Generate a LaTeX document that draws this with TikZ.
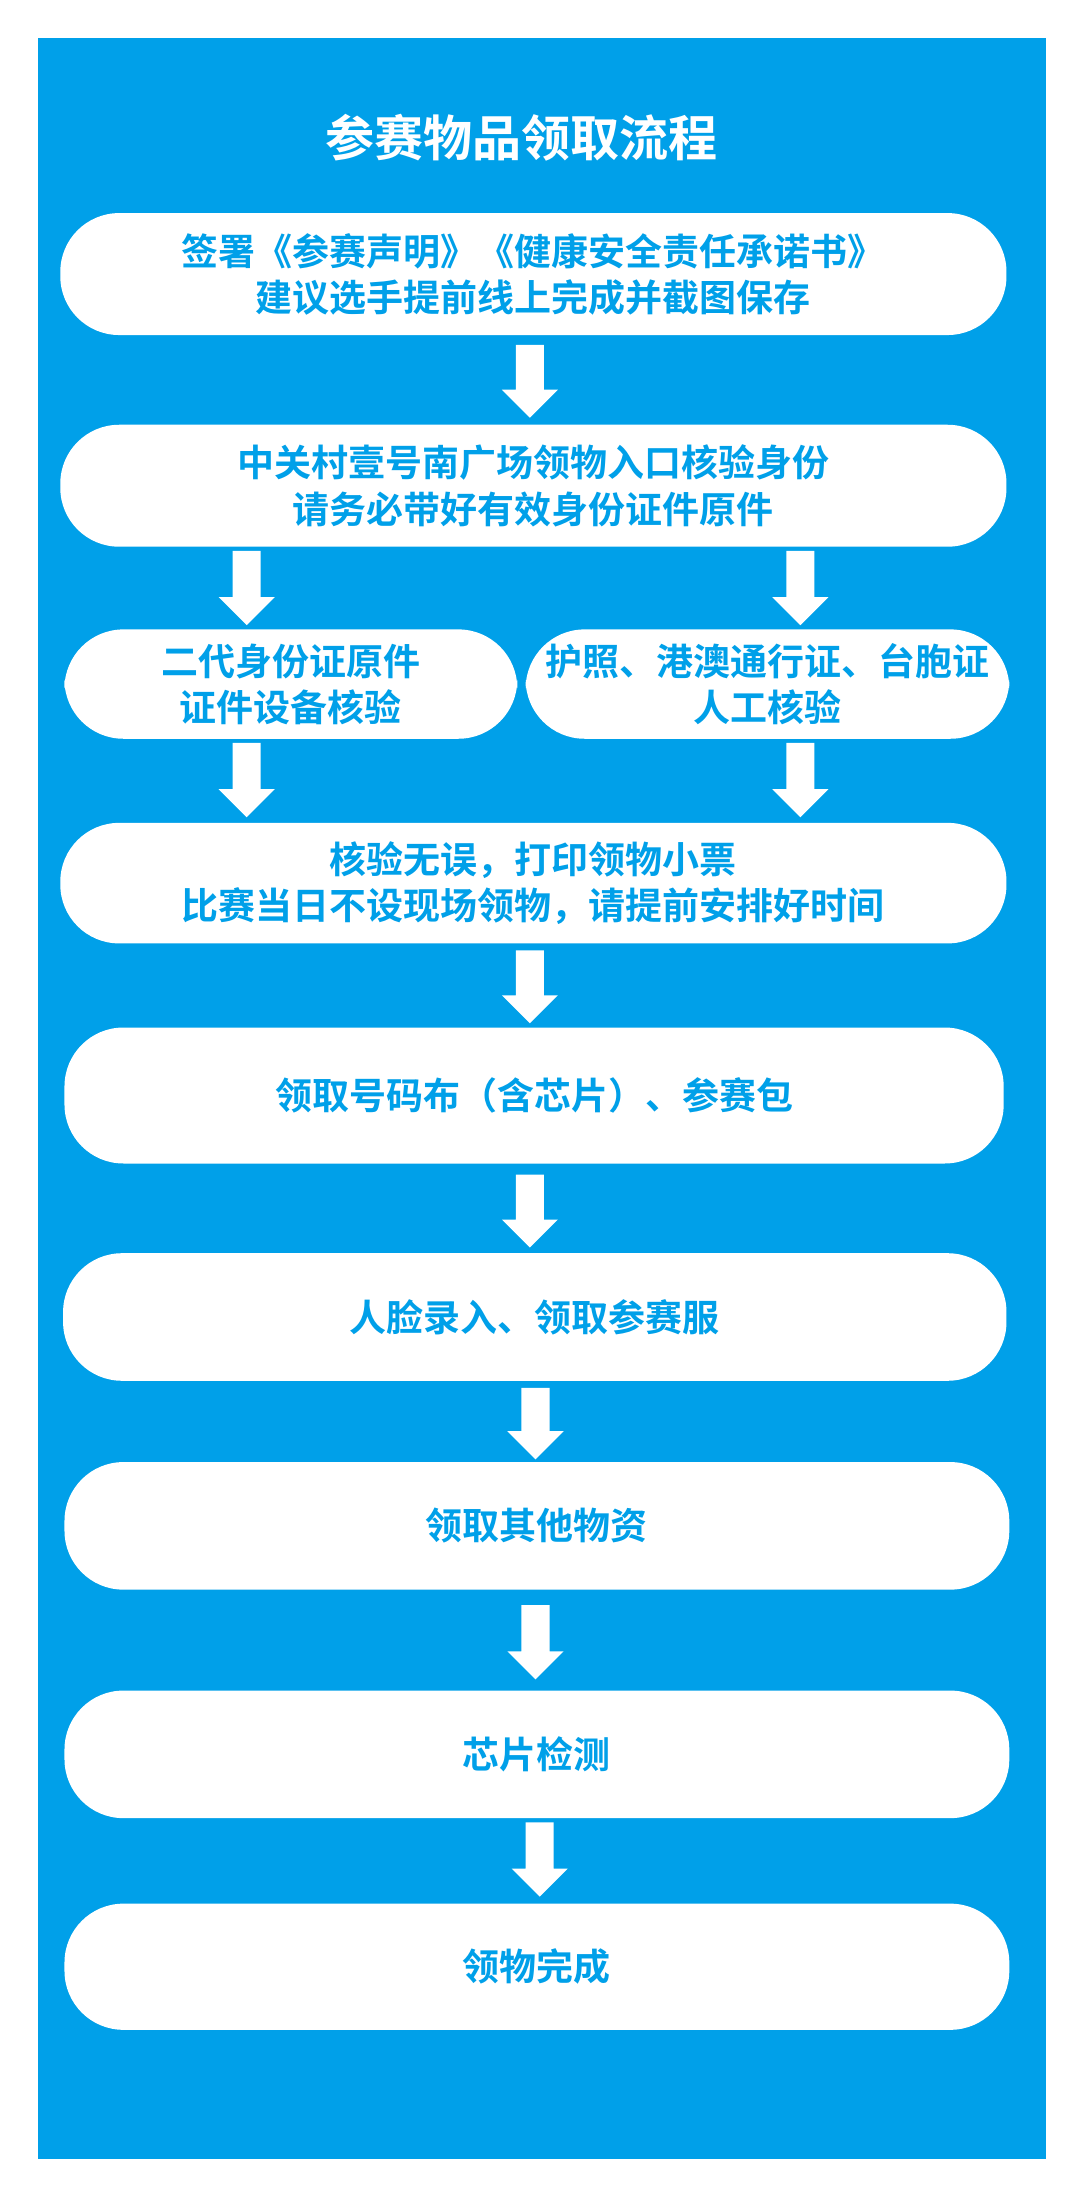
\documentclass[tikz,border=0pt]{standalone}
\usepackage{fontspec}
\newfontfamily\cjk{Noto Sans CJK SC}[BoldFont={Noto Sans CJK SC Bold}]
\definecolor{bgblue}{RGB}{0,160,233}
\tikzset{
  stepbox/.style={fill=white, rounded corners=21pt, inner sep=0pt, align=center,
    text=bgblue, font=\cjk\bfseries\fontsize{13.2}{16.5}\selectfont},
  blockarrow/.style={fill=white, draw=none}
}
% block arrow: x, top y, bottom y
\newcommand{\downarr}[3]{%
  \fill[blockarrow] (#1-10,#2) -- (#1+10,#2) -- (#1+10,#3-20) -- (#1+20,#3-20)
    -- (#1,#3) -- (#1-20,#3-20) -- (#1-10,#3-20) -- cycle;}

\begin{document}
\begin{tikzpicture}[x=0.5pt,y=-0.5pt]
	\useasboundingbox (0,0) rectangle (770,1563);
	% background
	\fill[bgblue] (27,27) rectangle (746,1540);
	\node[text=white, font=\cjk\bfseries\fontsize{17.5}{20}\selectfont] (title) at (372,98) {参赛物品领取流程};
	
	% steps
	\node[stepbox, minimum width=337.5pt, minimum height=43.5pt] (sign) at (380.5,195.5) {签署《参赛声明》《健康安全责任承诺书》\\建议选手提前线上完成并截图保存};
	\node[stepbox, minimum width=337.5pt, minimum height=43.5pt] (check) at (380.5,346.5) {中关村壹号南广场领物入口核验身份\\请务必带好有效身份证件原件};
	\node[stepbox, minimum width=161.5pt, minimum height=39pt] (idcard) at (207.5,488) {二代身份证原件\\证件设备核验};
	\node[stepbox, minimum width=172.5pt, minimum height=39pt] (passport) at (547.5,488) {护照、港澳通行证、台胞证\\人工核验};
	\node[stepbox, minimum width=337.5pt, minimum height=43pt] (ticket) at (380.5,630) {核验无误，打印领物小票\\比赛当日不设现场领物，请提前安排好时间};
	\node[stepbox, minimum width=335pt, minimum height=48.5pt] (bib) at (381,781.5) {领取号码布（含芯片）、参赛包};
	\node[stepbox, minimum width=336.5pt, minimum height=45.5pt] (face) at (381.5,939.5) {人脸录入、领取参赛服};
	\node[stepbox, minimum width=337pt, minimum height=45.5pt] (other) at (383,1088.5) {领取其他物资};
	\node[stepbox, minimum width=337pt, minimum height=45.5pt] (chip) at (383,1251.5) {芯片检测};
	\node[stepbox, minimum width=337pt, minimum height=45pt] (done) at (383,1403) {领物完成};
	
	% arrows
	\downarr{378}{246}{298}
	\downarr{176}{393}{446}
	\downarr{571}{393}{446}
	\downarr{176}{530}{583}
	\downarr{571}{530}{583}
	\downarr{378}{678}{730}
	\downarr{378}{838}{890}
	\downarr{382}{990}{1041}
	\downarr{382}{1145}{1198}
	\downarr{385}{1300}{1353}
\end{tikzpicture}
\end{document}
